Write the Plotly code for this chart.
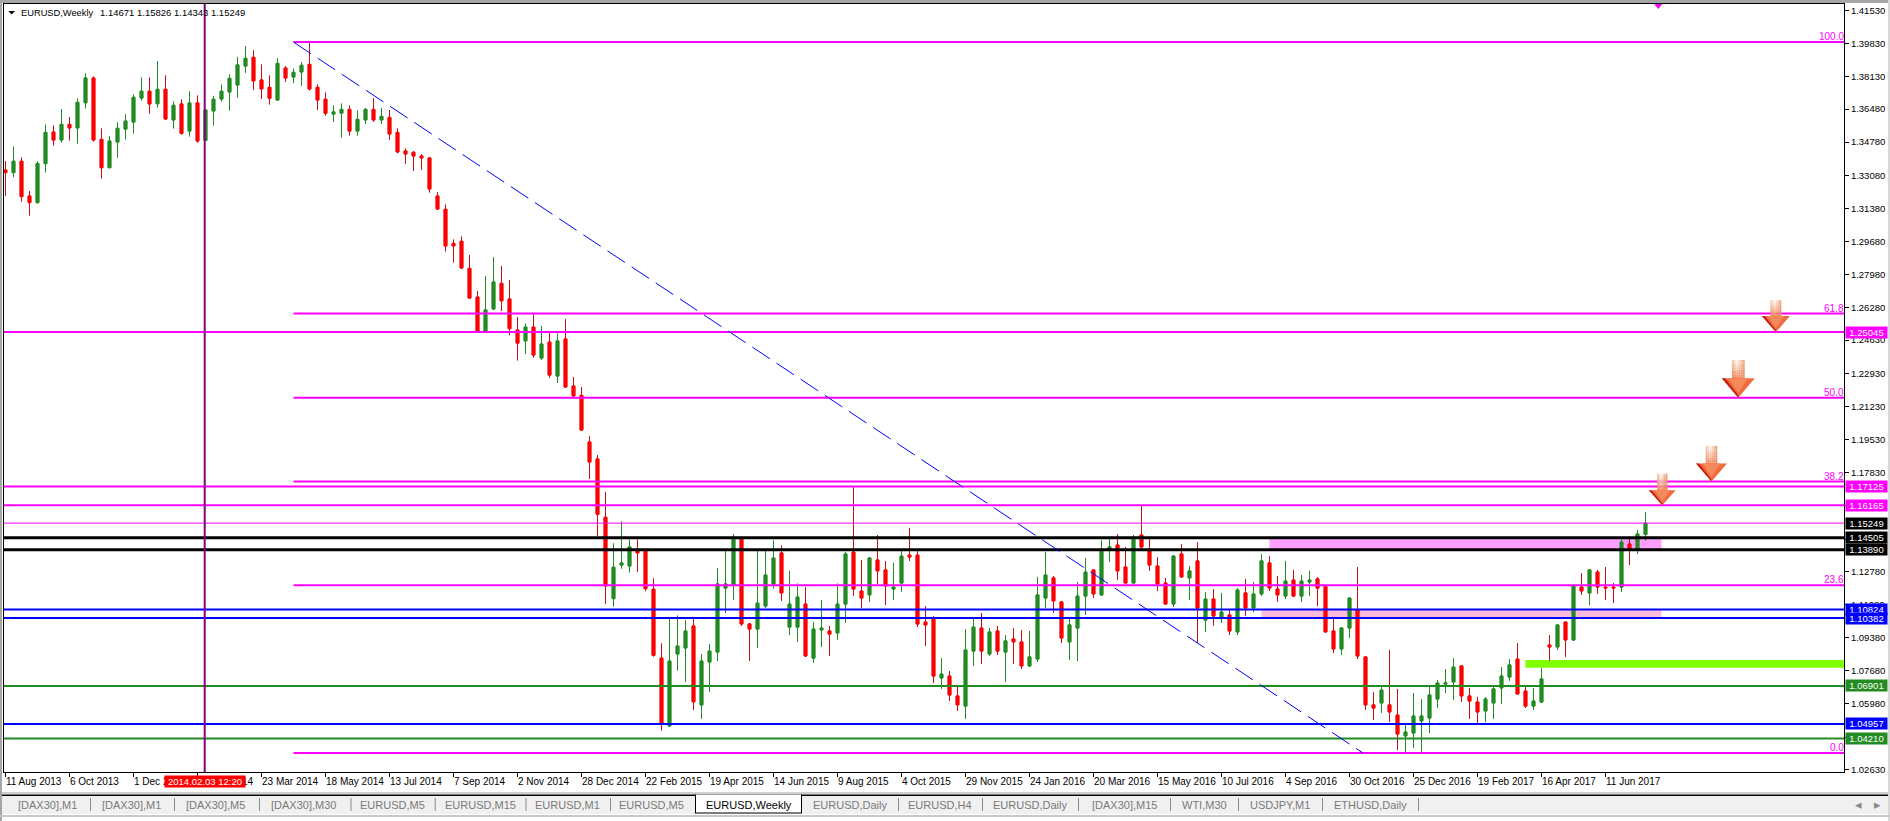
import pandas as pd
import plotly.graph_objects as go

START = pd.Timestamp("2013-08-11")

opens = [1.3335,1.3322,1.3380,1.3202,1.3168,1.3368,1.3530,1.3489,1.3569,1.3551,
1.3680,1.3807,1.3492,1.3347,1.3479,1.3545,1.3581,1.3704,1.3739,1.3675,
1.3749,1.3592,1.3674,1.3535,1.3679,1.3487,1.3638,1.3699,1.3735,1.3771,
1.3868,1.3913,1.3797,1.3759,1.3694,1.3858,1.3812,1.3838,1.3877,1.3759,
1.3698,1.3622,1.3627,1.3646,1.3535,1.3592,1.3646,1.3592,1.3605,1.3528,
1.3433,1.3426,1.3407,1.3397,1.3202,1.3134,1.2959,1.2970,1.2831,1.2684,
1.2506,1.2623,1.2754,1.2674,1.2515,1.2459,1.2530,1.2371,1.2453,1.2279,
1.2469,1.2228,1.2180,1.1941,1.1854,1.1555,1.1138,1.1310,1.1305,1.1384,
1.1384,1.1186,1.0833,1.0485,1.0854,1.0885,1.0998,1.0593,1.0813,1.0864,
1.1192,1.1206,1.1445,1.1008,1.0982,1.1100,1.1213,1.1372,1.0992,1.0992,
1.1110,1.0833,1.0977,1.0972,1.0962,1.1110,1.1377,1.1177,1.1157,1.1336,
1.1285,1.1187,1.1218,1.1361,1.1361,1.1018,1.1033,1.0731,1.0741,1.0639,
1.0587,1.0869,1.0987,1.0854,1.0972,1.0864,1.0931,1.0916,1.0793,1.0828,
1.1141,1.1244,1.1121,1.0916,1.0987,1.1151,1.1285,1.1157,1.1392,1.1413,
1.1300,1.1218,1.1464,1.1387,1.1305,1.1218,1.1110,1.1367,1.1244,1.1331,
1.1028,1.1136,1.1044,1.1054,1.0967,1.1167,1.1090,1.1162,1.1321,1.1187,
1.1151,1.1233,1.1151,1.1223,1.1239,1.1199,1.0972,1.0880,1.0987,1.1080,
1.0839,1.0593,1.0603,1.0593,1.0541,1.0434,1.0449,1.0511,1.0526,1.0623,
1.0700,1.0711,1.0793,1.0639,1.0608,1.0562,1.0603,1.0680,1.0736,1.0828,
1.0664,1.0587,1.0608,1.0900,1.0890,1.1018,1.0926,1.1197,1.1167,1.1274,
1.1197,1.1197,1.1197,1.1418,1.1392,1.14671]

closes = [1.3322,1.3380,1.3199,1.3168,1.3369,1.3528,1.3489,1.3569,1.3551,1.3682,
1.3807,1.3489,1.3347,1.3484,1.3549,1.3586,1.3708,1.3739,1.3674,1.3749,
1.3597,1.3667,1.3523,1.3679,1.3484,1.3643,1.3698,1.3739,1.3805,1.3874,
1.3908,1.3792,1.3751,1.3703,1.3882,1.3807,1.3836,1.3872,1.3751,1.3694,
1.3626,1.3633,1.3646,1.3535,1.3595,1.3646,1.3592,1.3610,1.3520,1.3428,
1.3417,1.3407,1.3397,1.3238,1.3135,1.2946,1.2946,1.2833,1.2679,1.2506,
1.2618,1.2761,1.2665,1.2522,1.2448,1.2530,1.2387,1.2443,1.2284,1.2459,
1.2223,1.2177,1.2002,1.1838,1.1570,1.1203,1.1299,1.1321,1.1403,1.1372,
1.1189,1.0847,1.0494,1.0818,1.0895,1.0972,1.0609,1.0818,1.0869,1.1213,
1.1213,1.1445,1.1008,1.0982,1.1115,1.1259,1.1346,1.1167,1.1110,1.1146,
1.0844,1.0982,1.0987,1.0956,1.1110,1.1367,1.1187,1.1141,1.1346,1.1280,
1.1203,1.1197,1.1356,1.1351,1.1008,1.1003,1.0741,1.0751,1.0644,1.0593,
1.0875,1.0992,1.0869,1.0967,1.0869,1.0921,1.0916,1.0793,1.0839,1.1157,
1.1259,1.1126,1.0936,1.1003,1.1151,1.1274,1.1162,1.1387,1.1403,1.1280,
1.1218,1.1444,1.1403,1.1310,1.1213,1.1110,1.1356,1.1249,1.1280,1.1090,
1.1136,1.1049,1.1069,1.0972,1.1182,1.1090,1.1162,1.1331,1.1192,1.1157,
1.1228,1.1151,1.1228,1.1233,1.1192,1.0967,1.0880,1.0987,1.1141,1.0844,
1.0593,1.0577,1.0669,1.0557,1.0444,1.0454,1.0536,1.0536,1.0644,1.0705,
1.0705,1.0787,1.0639,1.0613,1.0557,1.0623,1.0675,1.0741,1.0798,1.0649,
1.0587,1.0613,1.0726,1.0890,1.1003,1.0926,1.1203,1.1177,1.1285,1.1197,
1.1192,1.1192,1.1428,1.1392,1.1469,1.15249]

highs = [1.3381,1.3455,1.3400,1.3228,1.3380,1.3569,1.3564,1.3648,1.3607,1.3703,
1.3831,1.3815,1.3549,1.3510,1.3580,1.3621,1.3723,1.3810,1.3810,1.3894,
1.3821,1.3687,1.3698,1.3739,1.3718,1.3643,1.3715,1.3774,1.3826,1.3915,
1.3971,1.3949,1.3877,1.3821,1.3908,1.3868,1.3856,1.3889,1.3990,1.3774,
1.3733,1.3667,1.3677,1.3667,1.3641,1.3653,1.3703,1.3653,1.3643,1.3549,
1.3446,1.3433,1.3416,1.3400,1.3222,1.3159,1.2980,1.2995,1.2900,1.2715,
1.2792,1.2889,1.2843,1.2771,1.2582,1.2549,1.2596,1.2536,1.2500,1.2498,
1.2571,1.2274,1.2223,1.1972,1.1874,1.1685,1.1422,1.1534,1.1442,1.1442,
1.1392,1.1242,1.0909,1.1039,1.1052,1.1028,1.1039,1.0854,1.0905,1.1295,
1.1384,1.1469,1.1455,1.1013,1.1384,1.1384,1.1438,1.1411,1.1280,1.1216,
1.1197,1.1018,1.1131,1.0998,1.1216,1.1377,1.1715,1.1336,1.1351,1.1464,
1.1331,1.1321,1.1384,1.1500,1.1384,1.1100,1.1049,1.0833,1.0767,1.0690,
1.0982,1.1039,1.1064,1.0987,1.0998,1.0951,1.0987,1.0977,1.0972,1.1249,
1.1377,1.1254,1.1126,1.1039,1.1223,1.1346,1.1285,1.1438,1.1444,1.1469,
1.1403,1.1464,1.1613,1.1444,1.1351,1.1244,1.1361,1.1418,1.1305,1.1428,
1.1172,1.1187,1.1167,1.1080,1.1192,1.1239,1.1223,1.1367,1.1356,1.1254,
1.1331,1.1285,1.1259,1.1280,1.1249,1.1199,1.1039,1.0992,1.1141,1.1300,
1.0839,1.0659,1.0690,1.0875,1.0675,1.0500,1.0654,1.0623,1.0695,1.0721,
1.0777,1.0833,1.0793,1.0680,1.0634,1.0634,1.0695,1.0787,1.0828,1.0910,
1.0690,1.0680,1.0782,1.0951,1.1003,1.1018,1.1213,1.1269,1.1290,1.1285,
1.1300,1.1218,1.1444,1.1444,1.1490,1.15826]

lows = [1.3202,1.3298,1.3173,1.3101,1.3163,1.3322,1.3460,1.3475,1.3486,1.3470,
1.3650,1.3481,1.3291,1.3345,1.3398,1.3491,1.3522,1.3691,1.3624,1.3655,
1.3592,1.3547,1.3516,1.3506,1.3475,1.3487,1.3563,1.3686,1.3639,1.3706,
1.3833,1.3745,1.3699,1.3670,1.3694,1.3786,1.3781,1.3766,1.3742,1.3643,
1.3614,1.3581,1.3501,1.3511,1.3511,1.3571,1.3583,1.3571,1.3489,1.3421,
1.3366,1.3330,1.3335,1.3219,1.3132,1.2917,1.2860,1.2828,1.2675,1.2504,
1.2504,1.2618,1.2612,1.2488,1.2358,1.2392,1.2373,1.2361,1.2269,1.2243,
1.2218,1.2172,1.1997,1.1751,1.1459,1.1110,1.1097,1.1291,1.1271,1.1274,
1.1175,1.0840,1.0461,1.0480,1.0768,1.0711,1.0567,1.0521,1.0659,1.0818,
1.1064,1.1131,1.0998,1.0818,1.0885,1.1090,1.1189,1.1126,1.0951,1.0916,
1.0839,1.0808,1.0890,1.0844,1.0926,1.1013,1.1151,1.1090,1.1121,1.1213,
1.1105,1.1131,1.1172,1.1331,1.0992,1.0895,1.0705,1.0675,1.0613,1.0562,
1.0521,1.0793,1.0803,1.0844,1.0849,1.0711,1.0803,1.0777,1.0787,1.0813,
1.1090,1.1064,1.0910,1.0823,1.0818,1.1054,1.1141,1.1151,1.1326,1.1233,
1.1218,1.1218,1.1387,1.1280,1.1177,1.1110,1.1095,1.1244,1.1131,1.0910,
1.0967,1.0998,1.1013,1.0951,1.0951,1.1049,1.1069,1.1151,1.1177,1.1121,
1.1136,1.1146,1.1121,1.1151,1.1100,1.0967,1.0859,1.0849,1.0936,1.0828,
1.0567,1.0516,1.0552,1.0505,1.0362,1.0352,1.0372,1.0341,1.0449,1.0577,
1.0654,1.0618,1.0608,1.0521,1.0490,1.0505,1.0521,1.0598,1.0716,1.0649,
1.0577,1.0567,1.0603,1.0818,1.0875,1.0839,1.0921,1.1157,1.1105,1.1162,
1.1131,1.1115,1.1172,1.1310,1.1367,1.14343]

x_tick_dates = ["2013-08-11","2013-10-06","2013-12-01","2014-01-26","2014-03-23","2014-05-18","2014-07-13",
                "2014-09-07","2014-11-02","2014-12-28","2015-02-22","2015-04-19","2015-06-14","2015-08-09",
                "2015-10-04","2015-11-29","2016-01-24","2016-03-20","2016-05-15","2016-07-10","2016-09-04",
                "2016-10-30","2016-12-25","2017-02-19","2017-04-16","2017-06-11"]
x_tick_labels = ["11 Aug 2013","6 Oct 2013","1 Dec 2013","26 Jan 2014","23 Mar 2014","18 May 2014","13 Jul 2014",
                 "7 Sep 2014","2 Nov 2014","28 Dec 2014","22 Feb 2015","19 Apr 2015","14 Jun 2015","9 Aug 2015",
                 "4 Oct 2015","29 Nov 2015","24 Jan 2016","20 Mar 2016","15 May 2016","10 Jul 2016","4 Sep 2016",
                 "30 Oct 2016","25 Dec 2016","19 Feb 2017","16 Apr 2017","11 Jun 2017"]
y_ticks = [1.41530,1.39830,1.38130,1.36480,1.34780,1.33080,1.31380,1.29680,1.27980,1.26280,1.24630,1.22930,
           1.21230,1.19530,1.17830,1.16130,1.14430,1.12780,1.11080,1.09380,1.07680,1.05980,1.04280,1.02630]

magenta_levels = [1.25045,1.17125,1.16165]
bid_level = 1.15249
black_levels = [1.14505,1.13890]
blue_levels = [1.10824,1.10382,1.04957]
green_levels = [1.06901,1.04210]
fib_levels = [1.3991,1.2599,1.2168,1.1738,1.1206,1.0346]
fib_names = ["100.0","61.8","50.0","38.2","23.6","0.0"]
fib_start_week = 36
trend_end_week = 169.7
vline_week = 24.9
arrow_weeks = [221.3,216.6,213.25,207.1]
arrow_prices = [1.25045,1.2168,1.1738,1.16165]
arrow_sizes = [(14,16,5.5,31.7),(16.5,19.4,6.4,37.7),(15.5,18,5.8,35.7),(13.4,15,5.2,31.6)]
zone_top = dict(start=158,end=207,y0=1.1389,y1=1.14505)
zone_low = dict(start=157,end=207,y0=1.10382,y1=1.10824)
zone_green = dict(start=190,y0=1.0784,y1=1.0823)

tabs = ["[DAX30],M1","[DAX30],M1","[DAX30],M5","[DAX30],M30","EURUSD,M5","EURUSD,M15","EURUSD,M1","EURUSD,M5",
        "EURUSD,Weekly","EURUSD,Daily","EURUSD,H4","EURUSD,Daily","[DAX30],M15","WTI,M30","USDJPY,M1","ETHUSD,Daily"]
tab_centres = [47.5,131,215,303,392,480,567,651,749,850,940,1030,1124,1204,1280,1370]
tab_seps = [90,174,259,350.5,434.7,525.5,610,898,982,1078,1170,1238,1322,1418]

L, R, T, B = 4, 1844, 4, 772
W, H = R - L, B - T
FONT = "Liberation Sans"
RED, GREEN, MAG, BLUE = "#FF0000", "#228B22", "#FF00FF", "#0000FF"
WICK_RED = "#CC1010"

def wk(i):
    return START + pd.Timedelta(days=7 * i)

def px(x):
    return (x - L) / W

def py(y):
    return (B - y) / H

def mix(c1, c2, t):
    a = [int(c1[k:k + 2], 16) for k in (1, 3, 5)]
    b = [int(c2[k:k + 2], 16) for k in (1, 3, 5)]
    return "#" + "".join(f"{round(p + (q - p) * t):02X}" for p, q in zip(a, b))

dates = [wk(i) for i in range(len(opens))]
x_range = [wk((L - 5.5) / 8), wk((R - 5.5) / 8)]
y_range = [1.02491, 1.41863]

fig = go.Figure()
# wicks, in the darker red they have in the picture
fig.add_trace(go.Candlestick(
    x=dates, open=opens, high=highs, low=lows, close=closes,
    increasing=dict(line=dict(color=GREEN, width=1), fillcolor=GREEN),
    decreasing=dict(line=dict(color=WICK_RED, width=1), fillcolor=RED),
    whiskerwidth=0, hoverinfo="skip", showlegend=False))
# bodies on top, in pure red
fig.add_trace(go.Candlestick(
    x=dates, open=opens, close=closes,
    high=[max(o, c) for o, c in zip(opens, closes)],
    low=[min(o, c) for o, c in zip(opens, closes)],
    increasing=dict(line=dict(color=GREEN, width=1), fillcolor=GREEN),
    decreasing=dict(line=dict(color=RED, width=1), fillcolor=RED),
    whiskerwidth=0, hoverinfo="skip", showlegend=False))

shapes = []
annots = []

def chrome(x0, y0, x1, y1, fill):
    shapes.append(dict(type="rect", xref="paper", yref="paper", x0=px(x0), x1=px(x1), y0=py(y0), y1=py(y1),
                       fillcolor=fill, line=dict(width=0), layer="below"))

# window chrome
chrome(0, 0, 1890, 3, "#A6A6A6")
chrome(0, 0, 2, 821, "#A6A6A6")
chrome(1888, 0, 1890, 821, "#D8D8D8")
chrome(2, 792, 1888, 794, "#D0D0D0")
chrome(2, 796, 1888, 814, "#F0F0F0")
chrome(2, 794.5, 1888, 796, "#000000")
chrome(0, 815, 1890, 817, "#C8C8C8")
chrome(695, 794.5, 802, 813.5, "#000000")
chrome(696, 794.5, 801, 812.5, "#FFFFFF")
for s in tab_seps:
    chrome(s, 798, s + 1, 811, "#8A8A8A")

# zones under the candles
shapes.append(dict(type="rect", xref="x", yref="y", x0=wk(zone_top["start"]), x1=wk(zone_top["end"]),
                   y0=zone_top["y0"], y1=zone_top["y1"], fillcolor="#FF9FFF", line=dict(width=0), layer="below"))
shapes.append(dict(type="rect", xref="x", yref="y", x0=wk(zone_low["start"]), x1=wk(zone_low["end"]),
                   y0=zone_low["y0"], y1=zone_low["y1"], fillcolor="#FFBBDD", line=dict(width=0), layer="below"))
shapes.append(dict(type="rect", xref="x", yref="y", x0=wk(zone_green["start"]), x1=x_range[1],
                   y0=zone_green["y0"], y1=zone_green["y1"], fillcolor="#7FFF00", line=dict(width=0), layer="below"))

def hline(level, colour, width):
    shapes.append(dict(type="line", xref="paper", yref="y", x0=0, x1=1, y0=level, y1=level,
                       line=dict(color=colour, width=width)))

hline(bid_level, MAG, 1)
for v in magenta_levels:
    hline(v, MAG, 2)
for v in black_levels:
    hline(v, "#000000", 3)
for v in blue_levels:
    hline(v, BLUE, 2)
for v in green_levels:
    hline(v, GREEN, 2)
for v in fib_levels:
    shapes.append(dict(type="line", xref="x", yref="y", x0=wk(fib_start_week), x1=x_range[1], y0=v, y1=v,
                       line=dict(color=MAG, width=2)))

# trend line
shapes.append(dict(type="line", xref="x", yref="y", x0=wk(fib_start_week), x1=wk(trend_end_week),
                   y0=fib_levels[0], y1=fib_levels[-1], line=dict(color=BLUE, width=1, dash="21px,8px")))
# vertical marker
shapes.append(dict(type="line", xref="x", yref="paper", x0=wk(vline_week), x1=wk(vline_week), y0=0, y1=1,
                   line=dict(color="#800080", width=2)))

def poly(week, price, pts, colour, yref="y"):
    path = "M" + " L".join(f"{a:.2f},{b:.2f}" for a, b in pts) + " Z"
    shapes.append(dict(type="path", xref="x", yref=yref, xsizemode="pixel", ysizemode="pixel",
                       xanchor=wk(week), yanchor=price, path=path, fillcolor=colour, line=dict(width=0)))

TOP_TINTS = ["#F3C4A6", "#FBE4D4", "#FFF4EC", "#FAD9C2", "#F3BC9C", "#E4A888"]
for wkv, pr, (hw, hh, sw, tot) in zip(arrow_weeks, arrow_prices, arrow_sizes):
    n = len(TOP_TINTS)
    rows = 8
    for r_ in range(rows):
        t = r_ / (rows - 1)
        y1 = tot - (tot - hh + 1) * r_ / rows
        y0 = tot - (tot - hh + 1) * (r_ + 1) / rows
        for k, c in enumerate(TOP_TINTS):
            a = -sw + 2 * sw * k / n
            b = -sw + 2 * sw * (k + 1) / n
            poly(wkv, pr, [(a, y1), (b, y1), (b, y0), (a, y0)], mix(c, "#F0845A", t ** 1.2))
    # head
    poly(wkv, pr, [(-hw, hh), (hw, hh), (0, 0)], "#EE6C3E")
    poly(wkv, pr, [(-sw * 1.5, hh), (sw * 1.5, hh), (0, hh * 0.25)], "#F4895C")
    poly(wkv, pr, [(-hw, hh), (-hw * 0.8, hh), (0, hh * 0.12), (0, 0)], "#C41E14")

# magenta marker at the top edge
poly(206.6, 1, [(-4, 0), (4, 0), (0, -5)], MAG, yref="paper")

# legend triangle
shapes.append(dict(type="path", xref="paper", yref="paper",
                   path=f"M{px(8.3)},{py(11)} L{px(15)},{py(11)} L{px(11.6)},{py(14.5)} Z",
                   fillcolor="#000000", line=dict(width=0)))

def text(x, y, s, size=9.5, colour="#000000", anchor="left", **kw):
    annots.append(dict(xref="paper", yref="paper", x=px(x), y=py(y), text=s, showarrow=False, xanchor=anchor,
                       yanchor="middle", font=dict(family=FONT, size=size, color=colour), borderpad=0, **kw))

text(20, 12.5, "EURUSD,Weekly", size=9.3)
text(99, 12.5, "1.14671 1.15826 1.14343 1.15249", size=9.5)

# x labels, left-aligned on their ticks
for d, lab in zip(x_tick_dates, x_tick_labels):
    annots.append(dict(xref="x", yref="paper", x=d, y=py(781.7), text=lab, showarrow=False, xanchor="left",
                       xshift=-2, yanchor="middle", font=dict(family=FONT, size=10, color="#000000")))
text(205, 781.7, "2014.02.03 12:20", colour="#FFFFFF", anchor="center", bgcolor="#FF0000", width=80, height=11, align="center")

# fib labels
for v, nm in zip(fib_levels, fib_names):
    annots.append(dict(xref="paper", yref="y", x=px(1844.5), y=v, yshift=-1, text=nm, showarrow=False, xanchor="right",
                       yanchor="bottom", font=dict(family=FONT, size=10, color=MAG), borderpad=0))

def price_box(level, bg):
    annots.append(dict(xref="paper", yref="y", x=px(1866.5), y=level, text=f"{level:.5f}", showarrow=False,
                       xanchor="center", yanchor="middle", width=41, height=11, bgcolor=bg, borderpad=0,
                       align="center", font=dict(family=FONT, size=9.5, color="#FFFFFF")))

for v in magenta_levels:
    price_box(v, MAG)
price_box(bid_level, "#000000")
for v in black_levels:
    price_box(v, "#000000")
for v in blue_levels:
    price_box(v, BLUE)
for v in green_levels:
    price_box(v, GREEN)

# tabs
for name, c in zip(tabs, tab_centres):
    active = name == "EURUSD,Weekly"
    text(c, 805, name, size=11, colour="#000000" if active else "#7A7A7A", anchor="center")
text(1858, 804, "◂", size=13, colour="#8A8A8A", anchor="center")
text(1877, 804, "▸", size=13, colour="#8A8A8A", anchor="center")

fig.update_layout(
    width=1890, height=821, autosize=False,
    margin=dict(l=L, r=1890 - R, t=T, b=821 - B, pad=0),
    paper_bgcolor="#FFFFFF", plot_bgcolor="#FFFFFF",
    boxgap=0.5, boxmode="overlay", showlegend=False, hovermode=False,
    shapes=shapes, annotations=annots,
    xaxis=dict(type="date", range=x_range, rangeslider=dict(visible=False), showgrid=False, zeroline=False,
               tickmode="array", tickvals=x_tick_dates, ticktext=[""] * len(x_tick_dates), ticks="outside",
               ticklen=4, tickcolor="#000000", tickwidth=1, showline=True, linecolor="#000000", linewidth=1, mirror=True),
    yaxis=dict(range=y_range, side="right", showgrid=False, zeroline=False, tickmode="array", tickvals=y_ticks,
               ticktext=[f"{v:.5f}" for v in y_ticks], ticks="outside", ticklen=4, tickcolor="#000000", tickwidth=1,
               tickfont=dict(family=FONT, size=9.5, color="#000000"), showline=True, linecolor="#000000",
               linewidth=1, mirror=True),
)

fig.write_html("out.html", config=dict(displayModeBar=False, staticPlot=True),
               post_script="document.body.style.margin='0';document.documentElement.style.overflow='hidden';")
